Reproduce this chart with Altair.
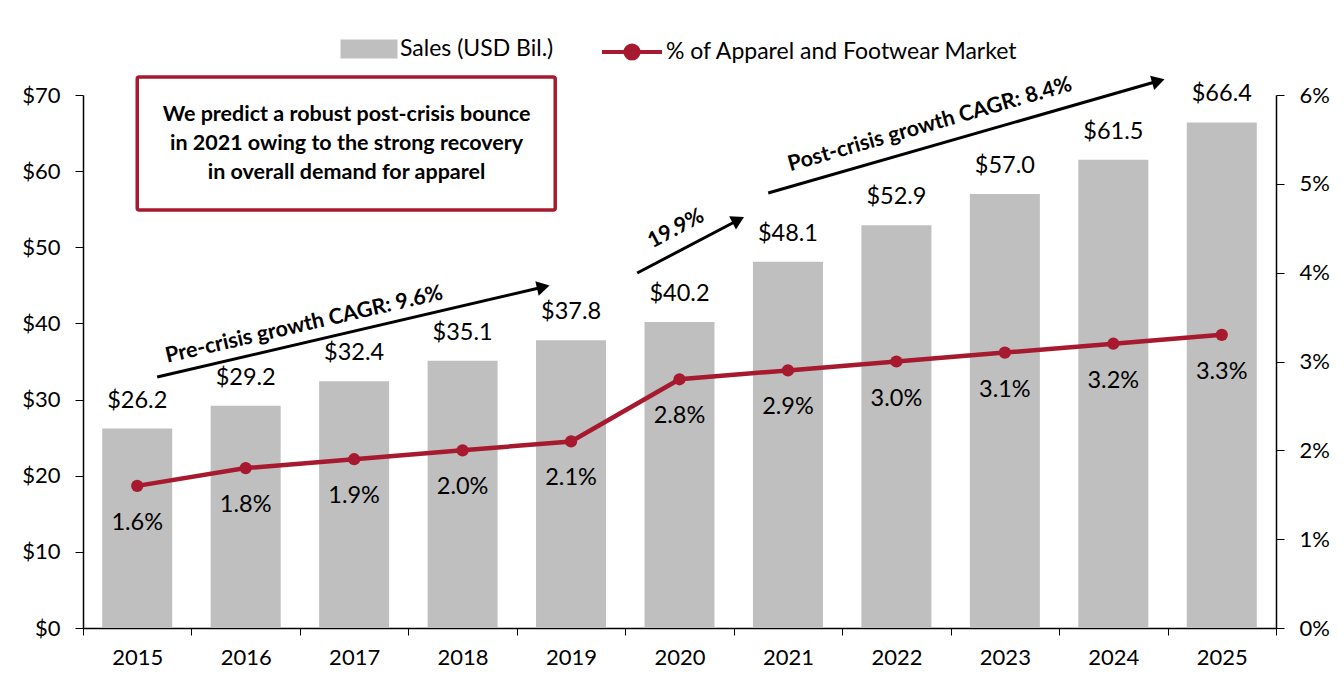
import altair as alt
import pandas as pd

years = [2015, 2016, 2017, 2018, 2019, 2020, 2021, 2022, 2023, 2024, 2025]
sales = [26.2, 29.2, 32.4, 35.1, 37.8, 40.2, 48.1, 52.9, 57.0, 61.5, 66.4]
share = [0.016, 0.018, 0.019, 0.020, 0.021, 0.028, 0.029, 0.030, 0.031, 0.032, 0.033]

sales_name = "Sales (USD Bil.)"
share_name = "% of Apparel and Footwear Market"

# annotation definitions (year, sales-value space)
arrows = pd.DataFrame({
    "x": [2015.184, 2019.610, 2020.818],
    "y": [32.96, 46.62, 57.13],
    "x2": [2018.744, 2020.542, 2024.415],
    "y2": [44.78, 53.58, 71.84],
    "angle": [347, 333, 344],
})
arrow_labels = pd.DataFrame({
    "x": [2016.54, 2019.97, 2022.31],
    "y": [39.79, 52.4, 66.06],
    "text": ["Pre-crisis growth CAGR: 9.6%", "19.9%", "Post-crisis growth CAGR: 8.4%"],
    "angle": [347, 332, 344],
})
box = pd.DataFrame({"x": [2015.0], "x2": [2018.854], "y": [72.36], "y2": [54.9]})
box_text = pd.DataFrame({
    "x": [2016.93], "y": [63.6],
    "text": [["We predict a robust post-crisis bounce",
              "in 2021 owing to the strong recovery",
              "in overall demand for apparel"]],
})

df = pd.DataFrame({"year": years, "sales": sales, "share": share,
                   "s": [sales_name] * len(years), "p": [share_name] * len(years)})

FONT = "Lato"
RED = "#A6192E"
GREY = "#BFBFBF"
AXIS_FS = 22
LABEL_FS = 23.5
ANNOT_FS = 21.5

xband = alt.X("year:O", title=None,
              scale=alt.Scale(paddingInner=0, paddingOuter=0),
              axis=alt.Axis(labelAngle=0, tickBand="extent", ticks=True, tickSize=7,
                            tickColor="black", domainColor="black", labelFontSize=AXIS_FS,
                            labelPadding=12, labelColor="black", labelFont=FONT, domainWidth=1.5))
xband_noaxis = alt.X("year:O", title=None, scale=alt.Scale(paddingInner=0, paddingOuter=0), axis=None)

ysales = alt.Y("sales:Q", title=None, scale=alt.Scale(domain=[0, 70]),
               axis=alt.Axis(values=[0, 10, 20, 30, 40, 50, 60, 70], format="$.0f", grid=False,
                             tickSize=8, tickColor="black", domainColor="black", domainWidth=1.5,
                             labelFontSize=AXIS_FS, labelPadding=15, labelColor="black", labelFont=FONT))
ysales_noaxis = alt.Y("sales:Q", title=None, scale=alt.Scale(domain=[0, 70]), axis=None)

yshare = alt.Y("share:Q", title=None, scale=alt.Scale(domain=[0, 0.06]),
               axis=alt.Axis(orient="right", values=[0, 0.01, 0.02, 0.03, 0.04, 0.05, 0.06],
                             format=".0%", grid=False, tickSize=8, tickColor="black",
                             domainColor="black", domainWidth=1.5, labelFontSize=AXIS_FS,
                             labelPadding=15, labelColor="black", labelFont=FONT))
yshare_noaxis = alt.Y("share:Q", title=None, scale=alt.Scale(domain=[0, 0.06]), axis=None)

base = alt.Chart(df)

bars = base.mark_bar(size=70).encode(
    x=xband, y=ysales,
    fill=alt.Fill("s:N", scale=alt.Scale(domain=[sales_name], range=[GREY]),
                  legend=alt.Legend(title=None, orient="none", legendX=267, legendY=-65,
                                    symbolType="M-1.5,-0.5H1.5V0.5H-1.5Z", symbolSize=1444,
                                    symbolStrokeWidth=0, labelOffset=12, labelFontSize=23,
                                    labelFont=FONT, labelColor="black", labelLimit=0)),
)
bar_text = base.mark_text(dy=-28, fontSize=LABEL_FS, font=FONT, color="black", baseline="middle").encode(
    x=xband_noaxis, y=ysales_noaxis, text=alt.Text("sales:Q", format="$.1f"))

line = base.mark_line(strokeWidth=4.5).encode(
    x=xband_noaxis, y=yshare,
    stroke=alt.Stroke("p:N", scale=alt.Scale(domain=[share_name], range=[RED]),
                      legend=alt.Legend(title=None, orient="none", legendX=527, legendY=-65,
                                        symbolType="M-1.5,0H1.5M0.33,0A0.33,0.33,0,1,1,-0.33,0A0.33,0.33,0,1,1,0.33,0",
                                        symbolSize=1600, symbolStrokeWidth=4, symbolFillColor=RED,
                                        labelOffset=12, labelFontSize=23, labelFont=FONT,
                                        labelColor="black", labelLimit=0)),
)
points = base.mark_point(filled=True, size=150, color=RED, opacity=1).encode(
    x=xband_noaxis, y=yshare_noaxis)
share_text = base.mark_text(dy=37, fontSize=LABEL_FS, font=FONT, color="black", baseline="middle").encode(
    x=xband_noaxis, y=yshare_noaxis, text=alt.Text("share:Q", format=".1%"))

xq = alt.X("x:Q", scale=alt.Scale(domain=[2014.5, 2025.5], nice=False, zero=False), axis=None)
yq = alt.Y("y:Q", scale=alt.Scale(domain=[0, 70], nice=False), axis=None)

arrow_lines = alt.Chart(arrows).mark_rule(strokeWidth=3, color="black").encode(
    x=xq, y=yq, x2="x2:Q", y2="y2:Q")
arrow_heads = alt.Chart(arrows).mark_point(shape="triangle-right", filled=True, size=220,
                                            color="black", opacity=1).encode(
    x=alt.X("x2:Q", scale=alt.Scale(domain=[2014.5, 2025.5], nice=False, zero=False), axis=None),
    y=alt.Y("y2:Q", scale=alt.Scale(domain=[0, 70], nice=False), axis=None),
    angle=alt.Angle("angle:Q", scale=None))
arrow_text = alt.Chart(arrow_labels).mark_text(fontSize=ANNOT_FS, font=FONT, fontWeight="bold",
                                                color="black", baseline="middle").encode(
    x=xq, y=yq, text="text:N", angle=alt.Angle("angle:Q", scale=None))

box_rect = alt.Chart(box).mark_rect(fill="white", stroke=RED, strokeWidth=3.5,
                                     cornerRadius=2).encode(x=xq, y=yq, x2="x2:Q", y2="y2:Q")
box_label = alt.Chart(box_text).mark_text(fontSize=ANNOT_FS, font=FONT, fontWeight="bold", color="black",
                                           baseline="middle", lineHeight=29, align="center",
                                           dy=-29).encode(
    x=xq, y=yq, text="text")

chart = alt.layer(
    bars, bar_text, line, points, share_text,
    arrow_lines, arrow_heads, arrow_text, box_rect, box_label,
).resolve_scale(
    x="independent", y="independent", fill="independent", stroke="independent"
).properties(
    width=1193, height=533,
    autosize=alt.AutoSizeParams(type="none"),
    padding={"left": 75, "top": 87, "right": 60, "bottom": 50},
).configure_view(stroke=None).configure_axis(grid=False)

chart.save("out.html", embed_options={"renderer": "svg", "actions": False})
